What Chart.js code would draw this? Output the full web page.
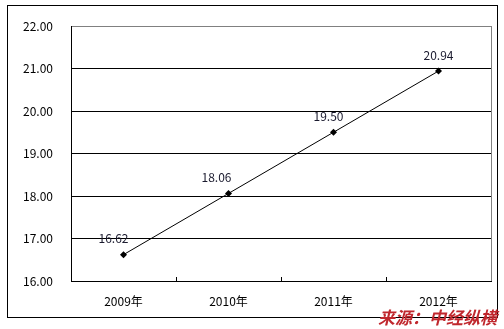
<!DOCTYPE html>
<html>
<head>
<meta charset="utf-8">
<script src="https://cdn.jsdelivr.net/npm/chart.js@4/dist/chart.umd.min.js"></script>
<style>
    html, body { margin: 0; padding: 0; background: #fff; }
    #wrap { position: relative; width: 504px; height: 329px; overflow: hidden; }
    #frame { position: absolute; left: 7px; top: 5px; width: 491px; height: 313px; border: 1px solid #000; box-sizing: border-box; }
    #chart { position: absolute; left: 0; top: 0; }
    #source {
        position: absolute; right: 7px; top: 307px;
        font-family: "Noto Sans CJK SC", sans-serif; font-weight: bold; font-style: italic;
        font-size: 17px; color: #c0272d; line-height: 20px;
    }
</style>
</head>
<body>
<div id="wrap">
    <div id="frame"></div>
    <canvas id="chart" width="504" height="329"></canvas>
    <div id="source">来源：中经纵横</div>
</div>
<script>
// Daten
const years = ['2009年', '2010年', '2011年', '2012年'];
const values = [16.62, 18.06, 19.50, 20.94];
const yTicks = [16, 17, 18, 19, 20, 21, 22];

// Beschriftung leicht nach links versetzt, wie im Original
const labelShift = [-10, -12, -5, 0];

const font = '"Noto Sans CJK SC", "DejaVu Sans", sans-serif';

// Wertbeschriftungen und kleine Trennstriche an der x-Achse
const extras = {
    id: 'extras',
    afterDatasetsDraw(chart) {
        const ctx = chart.ctx;
        const area = chart.chartArea;
        const xs = chart.scales.x;
        const meta = chart.getDatasetMeta(0);

        ctx.save();
        ctx.strokeStyle = '#000';
        ctx.lineWidth = 1;
        for (let i = 1; i < years.length; i++) {
            const x = Math.round((xs.getPixelForValue(i - 1) + xs.getPixelForValue(i)) / 2) + 0.5;
            ctx.beginPath();
            ctx.moveTo(x, area.bottom);
            ctx.lineTo(x, area.bottom - 4);
            ctx.stroke();
        }

        ctx.font = '12px ' + font;
        ctx.fillStyle = '#1a1a2e';
        ctx.textAlign = 'center';
        ctx.textBaseline = 'middle';
        meta.data.forEach((pt, i) => {
            ctx.fillText(values[i].toFixed(2), pt.x + labelShift[i], pt.y - 16);
        });

        // rechter Rand der Zeichenfläche (grau)
        ctx.strokeStyle = '#808080';
        ctx.beginPath();
        ctx.moveTo(Math.round(area.right) + 0.5, area.top);
        ctx.lineTo(Math.round(area.right) + 0.5, area.bottom);
        ctx.stroke();
        ctx.restore();
    }
};

new Chart('chart', {
    type: 'line',
    data: {
        labels: years,
        datasets: [{
            data: values,
            borderColor: '#000',
            borderWidth: 1,
            backgroundColor: '#000',
            pointStyle: 'rectRot',
            pointRadius: 3.5,
            pointBorderWidth: 0,
            tension: 0
        }]
    },
    options: {
        responsive: false,
        animation: false,
        layout: {padding: {top: 26, right: 13, left: 0, bottom: 0}},
        plugins: {legend: {display: false}, tooltip: {enabled: false}},
        scales: {
            x: {
                offset: true,
                grid: {display: false},
                border: {color: '#000', width: 1},
                ticks: {color: '#000', font: {family: font, size: 12}, padding: 5, maxRotation: 0},
                afterFit: (s) => { s.height = 48; }
            },
            y: {
                min: 16,
                max: 22,
                afterBuildTicks: (s) => { s.ticks = yTicks.map(v => ({value: v})); },
                grid: {
                    color: (c) => c.tick && c.tick.value === 22 ? '#808080' : '#000',
                    drawTicks: false
                },
                border: {color: '#000', width: 1},
                ticks: {
                    color: '#000',
                    font: {family: font, size: 12},
                    padding: 18,
                    callback: (v) => Number(v).toFixed(2)
                },
                afterFit: (s) => { s.width = 71; }
            }
        }
    },
    plugins: [extras]
});
</script>
</body>
</html>
